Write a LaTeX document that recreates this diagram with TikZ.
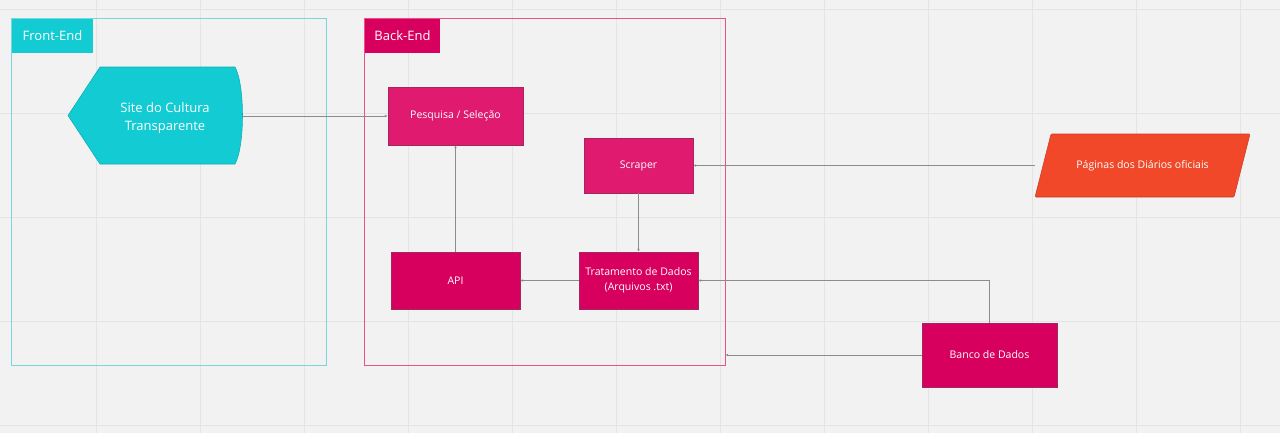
\documentclass[tikz,border=0pt]{standalone}
\usepackage{fontspec}
\setmainfont{Open Sans}
\usetikzlibrary{arrows.meta}
\definecolor{bg}{RGB}{242,242,242}
\definecolor{gridgray}{RGB}{228,228,228}
\definecolor{cyanfill}{RGB}{19,204,211}
\definecolor{cyanline}{RGB}{14,170,178}
\definecolor{cyanframe}{RGB}{120,214,221}
\definecolor{backline}{RGB}{236,80,134}
\definecolor{magA}{RGB}{224,26,111}
\definecolor{magB}{RGB}{216,0,94}
\definecolor{boxline}{RGB}{160,40,95}
\definecolor{orangefill}{RGB}{240,72,40}
\definecolor{orangeline}{RGB}{200,62,40}
\definecolor{linkgray}{RGB}{140,140,140}
\tikzset{
  small/.style={font=\fontsize{7.9}{11.25}\selectfont},
  big/.style={font=\fontsize{9.75}{13.5}\selectfont},
  box/.style={draw=boxline,line width=0.4pt,text=white,small,align=center,inner sep=0pt},
  boxa/.style={box,fill=magA},
  boxb/.style={box,fill=magB},
  link/.style={draw=linkgray,line width=0.5pt,-{Latex[length=2.2pt,width=2pt]}},
  area/.style={minimum height=259.5pt,inner sep=0pt},
  tag/.style={anchor=north west,text=white,big,minimum height=25.5pt,inner sep=0pt}
}
\begin{document}
\begin{tikzpicture}[x=0.75pt,y=-0.75pt]
\useasboundingbox (0,0) rectangle (1280,433);
\fill[bg] (0,0) rectangle (1280,433);
\foreach \i in {0,...,11} \draw[gridgray,line width=0.5pt] (96+104*\i,0) -- (96+104*\i,433);
\foreach \j in {0,...,4} \draw[gridgray,line width=0.5pt] (0,9+104*\j) -- (1280,9+104*\j);
\node[area,minimum width=235.5pt] (front) at (169,192) {};
\node[area,minimum width=270pt] (backend) at (545,192) {};
\draw[cyanframe,line width=0.7pt] (front.north west) rectangle (front.south east);
\draw[backline,line width=0.7pt] (backend.north west) rectangle (backend.south east);
\node[tag,fill=cyanfill,minimum width=60.75pt] (fronttag) at (front.north west) {Front-End\hspace{4pt}};
\node[tag,fill=magB,minimum width=56.25pt] (backtag) at (backend.north west) {Back-End};
\filldraw[fill=cyanfill,draw=cyanline,line width=0.4pt] (68,115.5) -- (100,67) -- (235,67)
  .. controls (245,85) and (245,146) .. (235,164) -- (100,164) -- cycle;
\node[text=white,big,align=center,minimum width=115.5pt,minimum height=72.75pt,inner sep=0pt]
  (site) at (165,118) {Site do Cultura\\Transparente};
\node[boxa,minimum width=101.25pt,minimum height=43.5pt] (pesq) at (455.5,116) {Pesquisa / Seleção};
\node[boxa,minimum width=81.75pt,minimum height=41.25pt] (scraper) at (638.5,165.5) {Scraper};
\node[boxb,minimum width=96.75pt,minimum height=42.75pt] (api) at (455.5,280.5) {API};
\node[boxb,minimum width=89.25pt,minimum height=42.75pt] (trat) at (638.5,280.5) {Tratamento de Dados\\(Arquivos .txt)};
\node[boxb,minimum width=101.25pt,minimum height=48pt] (banco) at (989.5,355) {Banco de Dados};
\filldraw[fill=orangefill,draw=orangeline,line width=0.4pt,rounded corners=0.8pt]
  (1051,134) -- (1250,134) -- (1234,197) -- (1035,197) -- cycle;
\node[text=white,small,minimum width=161.25pt,minimum height=47.25pt,inner sep=0pt]
  (pag) at (1142.5,165.5) {Páginas dos Diários oficiais};
\draw[link] (site.east |- pesq.west) -- (pesq.west);
\draw[link] (api.north) -- (pesq.south);
\draw[link] (scraper.south) -- (trat.north);
\draw[link] (trat.west) -- (api.east);
\draw[link] (pag.west) -- (scraper.east);
\draw[link] (banco.north) |- (trat.east);
\draw[link] (banco.west) -- (banco.west -| backend.east);
\end{tikzpicture}
\end{document}
